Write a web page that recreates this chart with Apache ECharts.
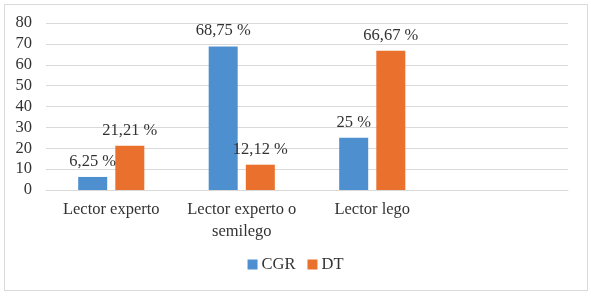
<!DOCTYPE html>
<html>
<head>
<meta charset="utf-8">
<script src="https://cdn.jsdelivr.net/npm/echarts@6/dist/echarts.min.js"></script>
<style>
    html, body { margin: 0; padding: 0; background: #ffffff; }
    #frame {
        position: absolute; left: 4px; top: 4px;
        width: 582px; height: 285px;
        border: 1px solid #d9d9d9;
    }
    #chart { position: absolute; left: 0; top: 0; width: 591px; height: 296px; }
</style>
</head>
<body>
<div id="frame"></div>
<div id="chart"></div>
<script>
// categories (the fourth slot is empty, as in the original)
const categories = ['Lector experto', 'Lector experto o\nsemilego', 'Lector lego', ''];
const cgrValues = [6.25, 68.75, 25, null];
const dtValues = [21.21, 12.12, 66.67, null];
const cgrLabels = ['6,25 %', '68,75 %', '25 %', ''];
const dtLabels = ['21,21 %', '12,12 %', '66,67 %', ''];
const yTicks = [0, 10, 20, 30, 40, 50, 60, 70, 80];

const serif = '"Liberation Serif", "DejaVu Serif", serif';

const chart = echarts.init(document.getElementById('chart'));

function makeSeries(name, values, labels, color) {
    return {
        name: name,
        type: 'bar',
        data: values,
        barWidth: 29,
        barGap: '28%',
        itemStyle: { color: color },
        label: {
            show: true,
            position: 'top',
            distance: 7,
            color: '#333333',
            fontFamily: serif,
            fontSize: 16.5,
            formatter: function (p) { return labels[p.dataIndex]; },
        },
    };
}

chart.setOption({
    animation: false,
    grid: { left: 46, right: 23, top: 23, bottom: 106 },
    legend: {
        top: 251,
        left: 'center',
        itemWidth: 10,
        itemHeight: 10,
        itemGap: 12,
        icon: 'rect',
        textStyle: { fontFamily: serif, fontSize: 16.5, color: '#333333', padding: [0, 0, 0, -1] },
        data: ['CGR', 'DT'],
    },
    xAxis: {
        type: 'category',
        data: categories,
        axisTick: { show: false },
        axisLine: { lineStyle: { color: '#d9d9d9' } },
        axisLabel: {
            interval: 0,
            color: '#333333',
            fontFamily: serif,
            fontSize: 16.5,
            lineHeight: 22,
            margin: 9,
        },
    },
    yAxis: {
        type: 'value',
        min: yTicks[0],
        max: yTicks[yTicks.length - 1],
        interval: 10,
        axisLine: { show: false },
        axisTick: { show: false },
        splitLine: { lineStyle: { color: '#d9d9d9' } },
        axisLabel: {
            color: '#333333',
            fontFamily: serif,
            fontSize: 16.5,
            margin: 14,
        },
    },
    series: [
        makeSeries('CGR', cgrValues, cgrLabels, '#4e8fcf'),
        makeSeries('DT', dtValues, dtLabels, '#ea702d'),
    ],
});
</script>
</body>
</html>
